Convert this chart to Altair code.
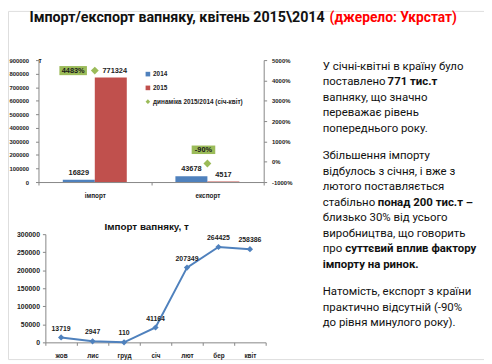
import altair as alt
import pandas as pd

# ---------------- data ----------------
categories = ["імпорт", "експорт"]
values_2014 = [16829, 43678]
values_2015 = [771324, 4517]
dynamics_pct = [4483, -90]
series_names = ["2014", "2015", "динаміка 2015/2014 (січ-квіт)"]

months = ["жов", "лис", "груд", "січ", "лют", "бер", "квіт"]
monthly_import = [13719, 2947, 110, 41164, 207349, 264425, 258386]

bar_ticks = list(range(0, 900001, 100000))
pct_ticks = list(range(-1000, 5001, 1000))
line_ticks = list(range(0, 300001, 50000))

title_main = "Імпорт/експорт вапняку, квітень 2015\\2014"
title_src = "(джерело: Укрстат)"
line_title = "Імпорт вапняку, т"

paragraph = [
    [("У січні-квітні в країну було", False)],
    [("поставлено", False), ("771 тис.т", True)],
    [("вапняку, що значно", False)],
    [("переважає рівень", False)],
    [("попереднього року.", False)],
    None,
    [("Збільшення імпорту", False)],
    [("відбулось з січня, і вже з", False)],
    [("лютого поставляється", False)],
    [("стабільно", False), ("понад 200 тис.т –", True)],
    [("близько 30% від усього", False)],
    [("виробництва, що говорить", False)],
    [("про", False), ("суттєвий вплив фактору", True)],
    [("імпорту на ринок.", True)],
    None,
    [("Натомість, експорт з країни", False)],
    [("практично відсутній (-90%", False)],
    [("до рівня минулого року).", False)],
]

BLUE = "#4F81BD"
RED = "#C0504D"
GREEN = "#9BBB59"
AXIS_GREY = "#868686"
FONT = "Liberation Sans"
PFONT = "Roboto"

W, H = 484, 354

bars_df = pd.DataFrame({
    "category": categories * 2,
    "series": [series_names[0]] * 2 + [series_names[1]] * 2,
    "value": values_2014 + values_2015,
})
dyn_df = pd.DataFrame({
    "category": categories,
    "series": [series_names[2]] * 2,
    "dyn": dynamics_pct,
})
line_df = pd.DataFrame({"month": months, "value": monthly_import})

# ---------------- bar chart ----------------
x_bar = alt.X(
    "category:N", sort=categories,
    scale=alt.Scale(domain=categories, range=[31, 260], paddingInner=0, paddingOuter=0),
    axis=alt.Axis(orient="bottom", offset=174 - H, title=None, labelAngle=0, grid=False,
                  tickBand="extent", tickSize=3, domainColor=AXIS_GREY, tickColor=AXIS_GREY,
                  labelFont=FONT, labelFontSize=6.5, labelFontWeight="bold", labelColor="#222",
                  labelPadding=8),
)
x_off = alt.XOffset("series:N", scale=alt.Scale(domain=series_names[:2], paddingOuter=0.76, paddingInner=0))
y_bar = alt.Y(
    "value:Q",
    scale=alt.Scale(domain=[0, 900000], range=[174, 50], nice=False, zero=True),
    axis=alt.Axis(orient="left", offset=-31, values=bar_ticks, format="d", grid=False,
                  title="т", titleAngle=0, titleX=1, titleY=50, titleAlign="center",
                  titleBaseline="middle", titleFontSize=6.5, titleFont=FONT, titleColor="#222",
                  tickSize=3, domainColor=AXIS_GREY, tickColor=AXIS_GREY,
                  labelFont=FONT, labelFontSize=6, labelFontWeight="bold", labelColor="#222",
                  labelPadding=7),
)
color = alt.Color(
    "series:N",
    scale=alt.Scale(domain=series_names, range=[BLUE, RED, GREEN]),
    legend=alt.Legend(orient="none", legendX=139, legendY=61, title=None, padding=0,
                      labelFont=FONT, labelFontSize=6.5, labelFontWeight="bold", labelColor="#222",
                      symbolSize=22, symbolStrokeWidth=0, rowPadding=7, labelOffset=2,
                      symbolOffset=0),
)

bars = alt.Chart(bars_df).mark_bar().encode(x=x_bar, xOffset=x_off, y=y_bar, color=color)
is_big = (alt.datum.category == categories[0]) & (alt.datum.series == series_names[1])
bar_labels = alt.Chart(bars_df).transform_filter(~is_big).mark_text(
    baseline="bottom", dy=-3, font=FONT, fontSize=7.5, fontWeight="bold", color="#222"
).encode(x=x_bar, xOffset=x_off, y=y_bar, text=alt.Text("value:Q", format="d"))
bar_label_big = alt.Chart(bars_df).transform_filter(is_big).mark_text(
    baseline="bottom", dy=-3, dx=4, font=FONT, fontSize=7.5, fontWeight="bold", color="#222"
).encode(x=x_bar, xOffset=x_off, y=y_bar, text=alt.Text("value:Q", format="d"))

y_dyn = alt.Y(
    "dyn:Q",
    scale=alt.Scale(domain=[-1000, 5000], range=[174, 50], nice=False, zero=False),
    axis=alt.Axis(orient="right", offset=-(W - 260), values=pct_ticks, labelExpr="datum.value + '%'",
                  grid=False, title=None, tickSize=3, domainColor=AXIS_GREY, tickColor=AXIS_GREY,
                  labelFont=FONT, labelFontSize=6, labelFontWeight="bold", labelColor="#222",
                  labelPadding=5),
)
shape = alt.Shape("series:N", scale=alt.Scale(domain=series_names, range=["square", "square", "diamond"]))

diamonds = alt.Chart(dyn_df).mark_point(filled=True, opacity=1, size=64).encode(
    x=x_bar, y=y_dyn, color=color, shape=shape)

box_a = "M-1,-0.33L1,-0.33L1,0.33L-1,0.33Z"
box_b = "M-1,-0.36L1,-0.36L1,0.36L-1,0.36Z"
dyn_text = alt.Text("label:N")
imp_box = alt.Chart(dyn_df).transform_filter(alt.datum.category == categories[0]).mark_point(
    shape=box_a, size=784, filled=True, opacity=1, color=GREEN, xOffset=-22, yOffset=0
).encode(x=x_bar, y=y_dyn)
imp_lab = alt.Chart(dyn_df).transform_filter(alt.datum.category == categories[0]).transform_calculate(
    label="datum.dyn + '%'").mark_text(
    dx=-22, dy=0, font=FONT, fontSize=7.5, fontWeight="bold", color="#1a1a1a"
).encode(x=x_bar, y=y_dyn, text=dyn_text)
exp_box = alt.Chart(dyn_df).transform_filter(alt.datum.category == categories[1]).mark_point(
    shape=box_b, size=576, filled=True, opacity=1, color=GREEN, xOffset=-4, yOffset=-14
).encode(x=x_bar, y=y_dyn)
exp_lab = alt.Chart(dyn_df).transform_filter(alt.datum.category == categories[1]).transform_calculate(
    label="datum.dyn + '%'").mark_text(
    dx=-4, dy=-14, font=FONT, fontSize=7.5, fontWeight="bold", color="#1a1a1a"
).encode(x=x_bar, y=y_dyn, text=dyn_text)

bar_group = alt.layer(
    alt.layer(bars, bar_labels, bar_label_big),
    alt.layer(imp_box, exp_box, diamonds, imp_lab, exp_lab),
).resolve_scale(y="independent")

# ---------------- line chart ----------------
x_line = alt.X(
    "month:N", sort=months,
    scale=alt.Scale(domain=months, range=[38, 262], paddingInner=0, paddingOuter=0),
    axis=alt.Axis(orient="bottom", offset=337 - H, title=None, labelAngle=0, grid=False,
                  tickBand="extent", tickSize=3, domainColor=AXIS_GREY, tickColor=AXIS_GREY,
                  labelFont=FONT, labelFontSize=6.5, labelFontWeight="bold", labelColor="#222",
                  labelPadding=7),
)
y_line = alt.Y(
    "value:Q",
    scale=alt.Scale(domain=[0, 300000], range=[337, 227], nice=False, zero=True),
    axis=alt.Axis(orient="left", offset=-38, values=line_ticks, format="d", grid=False,
                  title=None, tickSize=3, domainColor=AXIS_GREY, tickColor=AXIS_GREY,
                  labelFont=FONT, labelFontSize=7, labelFontWeight="bold", labelColor="#222",
                  labelPadding=3),
)
line = alt.Chart(line_df).mark_line(
    color=BLUE, strokeWidth=2,
    point=alt.OverlayMarkDef(shape="diamond", size=40, filled=True, color=BLUE, opacity=1),
).encode(x=x_line, y=y_line)
line_labels = alt.Chart(line_df).mark_text(
    baseline="bottom", dy=-6, font=FONT, fontSize=7, fontWeight="bold", color="#222"
).encode(x=x_line, y=y_line, text=alt.Text("value:Q", format="d"))
line_group = alt.layer(line, line_labels)

# ---------------- texts ----------------
def txt(s, x, y, size, weight="normal", color="#111", font=PFONT, align="left"):
    return alt.Chart(pd.DataFrame({"t": [s]})).mark_text(
        align=align, baseline="middle", font=font, fontSize=size, fontWeight=weight, color=color
    ).encode(text="t:N", x=alt.value(x), y=alt.value(y))

texts = [
    txt(title_main, 322, 7, 14.5, "bold", "#111", PFONT, "right"),
    txt(title_src, 327, 7, 14, "bold", "#FF0000", PFONT, "left"),
    txt(line_title, 141, 220, 10, "bold", "#111", FONT, "center"),
]

bold_x = {"771 тис.т": 386, "понад 200 тис.т –": 376, "суттєвий вплив фактору": 343}
y = 57
step = 15.7
for ln in paragraph:
    if ln is None:
        y += step * 0.8
        continue
    for seg, b in ln:
        x = bold_x.get(seg, 320) if b else 320
        texts.append(txt(seg, x, y, 11.6, "bold" if b else "normal"))
    y += step

chart = alt.layer(bar_group, line_group, *texts).resolve_scale(
    x="independent", y="independent"
).properties(
    width=W, height=H, padding=0,
    autosize=alt.AutoSizeParams(type="none"),
).configure_view(stroke=None).configure(background="white")

chart.save("out.html", embed_options={"renderer": "svg", "actions": False})
